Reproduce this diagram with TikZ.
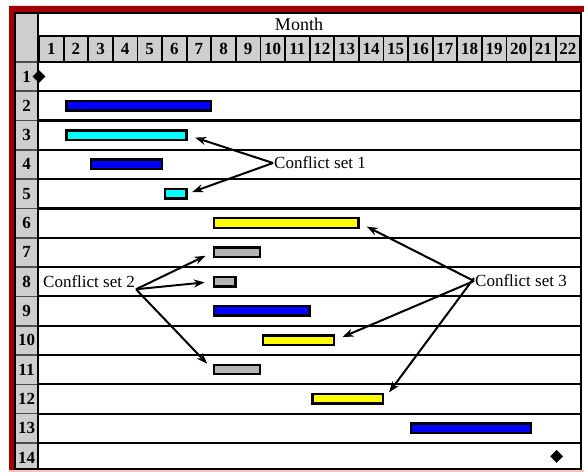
\documentclass[tikz,border=0pt]{standalone}
\usepackage{fontspec}
\setmainfont{Liberation Serif}
\usetikzlibrary{arrows.meta,shapes.geometric}

\definecolor{framered}{RGB}{160,0,0}
\definecolor{cellgray}{RGB}{206,206,206}
\definecolor{bargray}{RGB}{180,180,180}
\definecolor{barblue}{RGB}{0,0,255}
\definecolor{barcyan}{RGB}{0,255,255}
\definecolor{baryellow}{RGB}{255,255,0}

\begin{document}
\begin{tikzpicture}[x=1pt,y=-1pt,>={Stealth[length=11pt,width=8pt]},
  bar/.style={draw=black,line width=2.4pt,anchor=west,inner sep=0pt,
    minimum height=9.5pt},
  daycell/.style={draw=black,fill=cellgray,line width=1.8pt},
  conflict/.style={->,line width=2pt,shorten >=8pt},
  lbl/.style={font=\fontsize{17}{17}\selectfont,inner sep=1pt}]
  \useasboundingbox (0,0) rectangle (584,473);

  % frame and label column
  \fill[framered] (9,6) rectangle (584,12) (9,6) rectangle (14,471);
  \fill[red!25] (9,470) rectangle (584,472);
  \fill[cellgray] (14,12) rectangle (38,469);
  \fill[white] (38,12) rectangle (581,469);

  % month cells
  \foreach \i in {1,...,22}
    \draw[daycell] ({39+24.6*(\i-1)},36) rectangle ({39+24.6*\i},62)
      node[midway,font=\bfseries\fontsize{17}{17}\selectfont] (d\i) {\i};
  \node[font=\fontsize{18}{18}\selectfont] (month) at (299,24) {Month};

  % rows
  \foreach \k in {0,...,13}{
    \draw[gray!60!black,line width=1.6pt] (14,{62+29.3*\k}) -- (38,{62+29.3*\k});
    \draw[line width=2.2pt] (38,{62+29.3*\k}) -- (581,{62+29.3*\k});
  }
  \foreach \r in {1,...,14}
    \node[font=\bfseries\fontsize{17}{17}\selectfont] (r\r)
      at (26.5,{62+29.3*(\r-1)+14.5}) {\r};
  \draw[line width=2.4pt] (15,13) rectangle (581,469);
  \draw[line width=2.4pt] (38,13) -- (38,469);

  % activities: row/start month/months/colour
  \foreach \r/\s/\n/\c in {2/2/6/barblue,3/2/5/barcyan,4/3/3/barblue,
      5/6/1/barcyan,6/8/6/baryellow,7/8/2/bargray,8/8/1/bargray,
      9/8/4/barblue,10/10/3/baryellow,11/8/2/bargray,12/12/3/baryellow,
      13/16/5/barblue}
    \node[bar,fill=\c,minimum width={24.6*\n-3}]
      (b\r) at ({39+24.6*(\s-1)+1.5},{62+29.3*(\r-1)+14.5}) {};
  \node[diamond,fill=black,inner sep=0pt,minimum size=13pt] (m1)
    at (39,{62+14.5}) {};
  \node[diamond,fill=black,inner sep=0pt,minimum size=13pt] (m14)
    at (556.6,{62+29.3*13+13.5}) {};

  % conflict sets
  \node[lbl,anchor=west] (cs1) at (273,163) {Conflict set 1};
  \node[lbl,anchor=west] (cs2) at (42,282) {Conflict set 2};
  \node[lbl,anchor=west] (cs3) at (474,281) {Conflict set 3};

  \draw[conflict] (cs1.west) -- (b3.east);
  \draw[conflict,shorten >=5pt] (cs1.west) -- (b5.east);
  \draw[conflict] (cs2.south east) -- (b7.west);
  \draw[conflict] (cs2.south east) -- (b8.west);
  \draw[conflict] (cs2.south east) -- (b11.west);
  \draw[conflict] (cs3.west) -- (b6.east);
  \draw[conflict] (cs3.west) -- (b10.east);
  \draw[conflict] ([yshift=3pt]cs3.west) -- (b12.east);
\end{tikzpicture}
\end{document}
